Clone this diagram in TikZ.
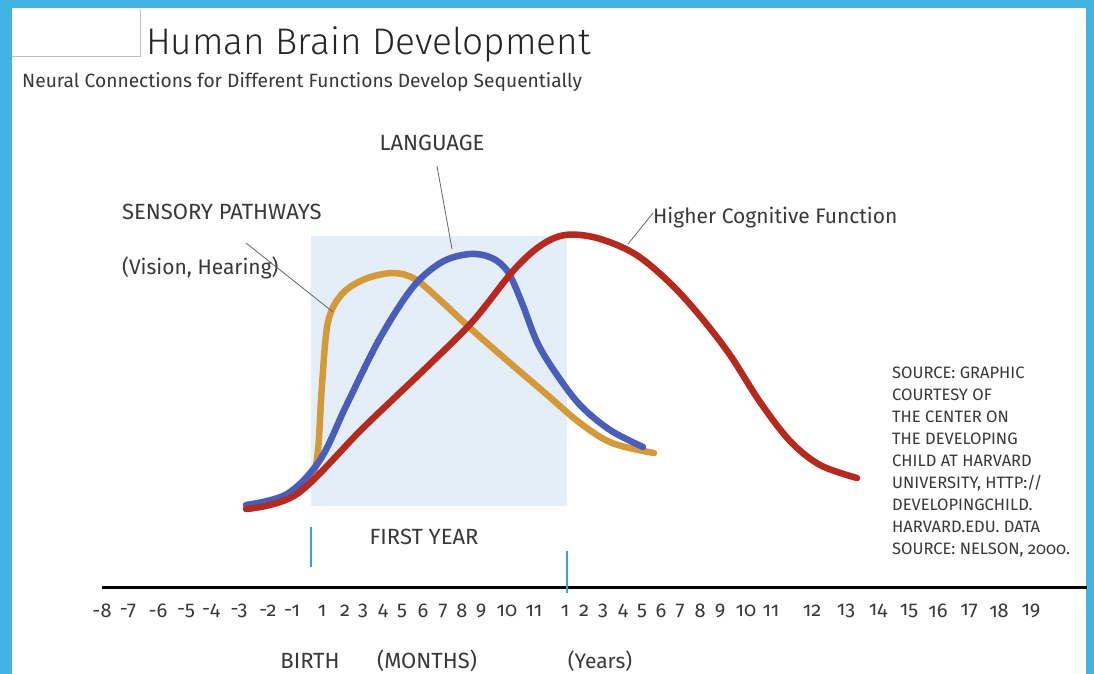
\documentclass[tikz,border=0pt]{standalone}
\usepackage{fontspec}
\setmainfont{Fira Sans}[Numbers=OldStyle]
\newfontfamily\titlefont{Fira Sans Light}
\begin{document}
\begin{tikzpicture}[x=1pt,y=-1pt,
  txt/.style={inner sep=0pt, text=black!78, font=\fontsize{21}{24}\selectfont},
  caps/.style={txt, font=\fontsize{22}{25}\selectfont},
  curve/.style={line width=6.5pt, line cap=round, line join=round},
  leader/.style={draw=black!60, line width=0.8pt},
  tickmark/.style={draw=tickblue, line width=2.2pt}]
\definecolor{frameblue}{HTML}{43B3E4}
\definecolor{shadecol}{HTML}{E4EEF8}
\definecolor{sens}{HTML}{D49A3A}
\definecolor{lang}{HTML}{4A5DB8}
\definecolor{cog}{HTML}{B5291E}
\definecolor{tickblue}{HTML}{3A9EE0}
\useasboundingbox (0,0) rectangle (1094,674);
% frame
\fill[frameblue] (0,0) rectangle (1094,674);
\fill[white] (12,8) rectangle (1086,674);
\draw[black!25, line width=1pt] (12,57) -- (140,57) -- (140,10);
% shaded first year
\fill[shadecol] (311,236) rectangle (567,506);
% title
\node[txt, anchor=west, text=black!85, font=\titlefont\fontsize{37}{42}\selectfont] (title) at (146,44) {Human Brain Development};
\node[txt, anchor=west, font=\fontsize{19.2}{22}\selectfont] (sub) at (22,82) {Neural Connections for Different Functions Develop Sequentially};
% curves
\draw[curve, sens] plot[smooth, tension=0.55] coordinates {(247,506) (290,496) (312,475) (318,450) (322,385) (328,322) (342,294) (365,279) (393,273) (415,279) (440,300) (470,328) (510,363) (545,393) (580,423) (612,443) (654,453)};
\draw[curve, lang] plot[smooth, tension=0.55] coordinates {(246,505) (287,494) (320,460) (347,404) (380,338) (413,287) (442,262) (470,254) (492,258) (508,272) (522,303) (537,342) (555,372) (580,405) (610,430) (643,447)};
\draw[curve, cog] plot[smooth, tension=0.55] coordinates {(246,509) (297,494) (363,428) (430,364) (473,321) (513,271) (540,246) (565,235) (597,238) (635,254) (670,283) (700,316) (730,355) (760,402) (790,441) (820,465) (857,478)};
% labels
\node[caps, anchor=west] (sensory) at (122,212) {SENSORY PATHWAYS};
\node[txt, anchor=west] (vision) at (122,268) {(Vision, Hearing)};
\node[caps] (language) at (432,143) {LANGUAGE};
\node[txt, anchor=west] (higher) at (653,218) {Higher Cognitive Function};
\coordinate (s1) at (246,243);
\coordinate (s2) at (333,312);
\coordinate (l1) at (437,166);
\coordinate (l2) at (452,249);
\coordinate (h1) at (653,213);
\coordinate (h2) at (628,244);
\draw[leader] (s1) -- (s2);
\draw[leader] (l1) -- (l2);
\draw[leader] (h1) -- (h2);
\node[caps] (first) at (424,537) {FIRST YEAR};
% source
\node[txt, anchor=north west, align=left, font=\fontsize{16.5}{22}\selectfont] (source) at (892,367) {SOURCE: GRAPHIC\\COURTESY OF\\THE CENTER ON\\THE DEVELOPING\\CHILD AT HARVARD\\UNIVERSITY, HTTP://\\DEVELOPINGCHILD.\\HARVARD.EDU. DATA\\SOURCE: NELSON, 2000.};
% axis
\coordinate (a0) at (102,587);
\coordinate (a1) at (1087,587);
\draw[black, line width=3pt] (a0) -- (a1);
\coordinate (t1a) at (311,527);
\coordinate (t1b) at (311,567);
\coordinate (t2a) at (567,551);
\coordinate (t2b) at (567,593);
\draw[tickmark] (t1a) -- (t1b);
\draw[tickmark] (t2a) -- (t2b);
\foreach \xx/\lab [count=\i] in {102/-8,128/-7,158/-6,186/-5,211/-4,239/-3,268/-2,292/-1,322/1,345/2,363/3,383/4,402/5,423/6,443/7,462/8,481/9,507/10,534/11,565/1,584/2,603/3,623/4,642/5,661/6,680/7,700/8,720/9,746/10,771/11,812/12,846/13,878/14,909/15,938/16,969/17,999/18,1031/19}
  \node[txt, font=\fontsize{20}{22}\selectfont] (n\i) at (\xx,611) {\lab};
\node[caps] (birth) at (310,661) {BIRTH};
\node[caps] (months) at (427,661) {(MONTHS)};
\node[txt] (years) at (600,661) {(Years)};
\end{tikzpicture}
\end{document}
